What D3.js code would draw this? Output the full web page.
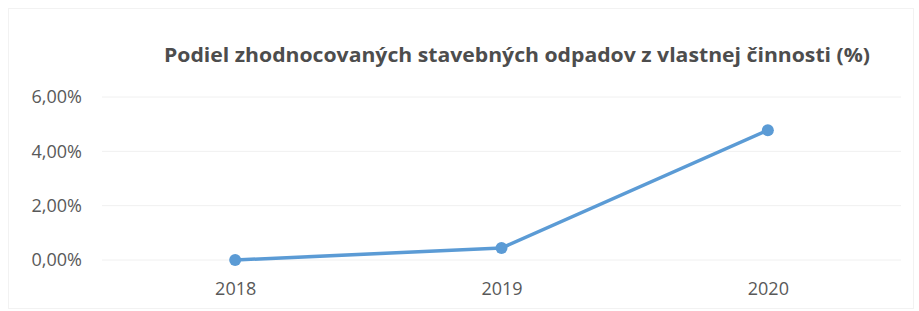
<!DOCTYPE html>
<head>
  <meta charset="utf-8">
  <style>
    body { margin: 0; background: #fff; }
    .axis .domain { display: none; }
    .axis .tick line { display: none; }
    .axis text { fill: #595959; font-family: "Open Sans", sans-serif; font-size: 18px; }
  </style>
</head>
<body>
  <svg width="919" height="311"></svg>
  <script src="https://d3js.org/d3.v7.min.js"></script>
  <script>
    var years = ["2018", "2019", "2020"];
    var share = [0.0, 0.44, 4.78];
    var yTicks = [0, 2, 4, 6];
    var title = "Podiel zhodnocovaných stavebných odpadov z vlastnej činnosti (%)";

    var svg = d3.select("svg"),
        margin = {top: 97, right: 18, bottom: 51, left: 102},
        width = +svg.attr("width") - margin.left - margin.right,
        height = +svg.attr("height") - margin.top - margin.bottom;

    // faint chart border
    svg.append("rect")
        .attr("x", 8.5).attr("y", 8.5)
        .attr("width", 905).attr("height", 300)
        .attr("fill", "none")
        .attr("stroke", "#f2f2f2");

    var graph = svg.append("g").attr("transform", "translate(" + margin.left + "," + margin.top + ")");

    var x = d3.scalePoint().domain(years).range([0, width]).padding(0.5);
    var y = d3.scaleLinear().domain([0, 6]).range([height, 0]);

    // gridlines
    graph.append("g")
      .selectAll("line")
      .data(yTicks)
      .enter().append("line")
        .attr("x1", 0).attr("x2", width)
        .attr("y1", function(d) { return y(d); })
        .attr("y2", function(d) { return y(d); })
        .attr("stroke", "#f0f0f0")
        .attr("stroke-width", 1);

    graph.append("g")
        .attr("class", "axis")
        .attr("transform", "translate(-20,0)")
        .call(d3.axisLeft(y).tickValues(yTicks).tickSize(0).tickPadding(0)
          .tickFormat(function(d) { return d.toFixed(2).replace(".", ",") + "%"; }));

    graph.append("g")
        .attr("class", "axis")
        .attr("transform", "translate(0," + height + ")")
        .call(d3.axisBottom(x).tickSize(0).tickPadding(22));

    var line = d3.line()
        .x(function(d, i) { return x(years[i]); })
        .y(function(d) { return y(d); });

    graph.append("path")
        .datum(share)
        .attr("d", line)
        .attr("fill", "none")
        .attr("stroke", "#5b9bd5")
        .attr("stroke-width", 3.5)
        .attr("stroke-linejoin", "round");

    graph.append("g")
      .selectAll("circle")
      .data(share)
      .enter().append("circle")
        .attr("cx", function(d, i) { return x(years[i]); })
        .attr("cy", function(d) { return y(d); })
        .attr("r", 6)
        .attr("fill", "#5b9bd5");

    svg.append("text")
        .attr("x", 517)
        .attr("y", 62)
        .attr("text-anchor", "middle")
        .attr("font-family", "'Open Sans', sans-serif")
        .attr("font-weight", "bold")
        .attr("font-size", 20)
        .attr("fill", "#4d4d4d")
        .attr("textLength", 706)
        .attr("lengthAdjust", "spacingAndGlyphs")
        .text(title);
  </script>
</body>
